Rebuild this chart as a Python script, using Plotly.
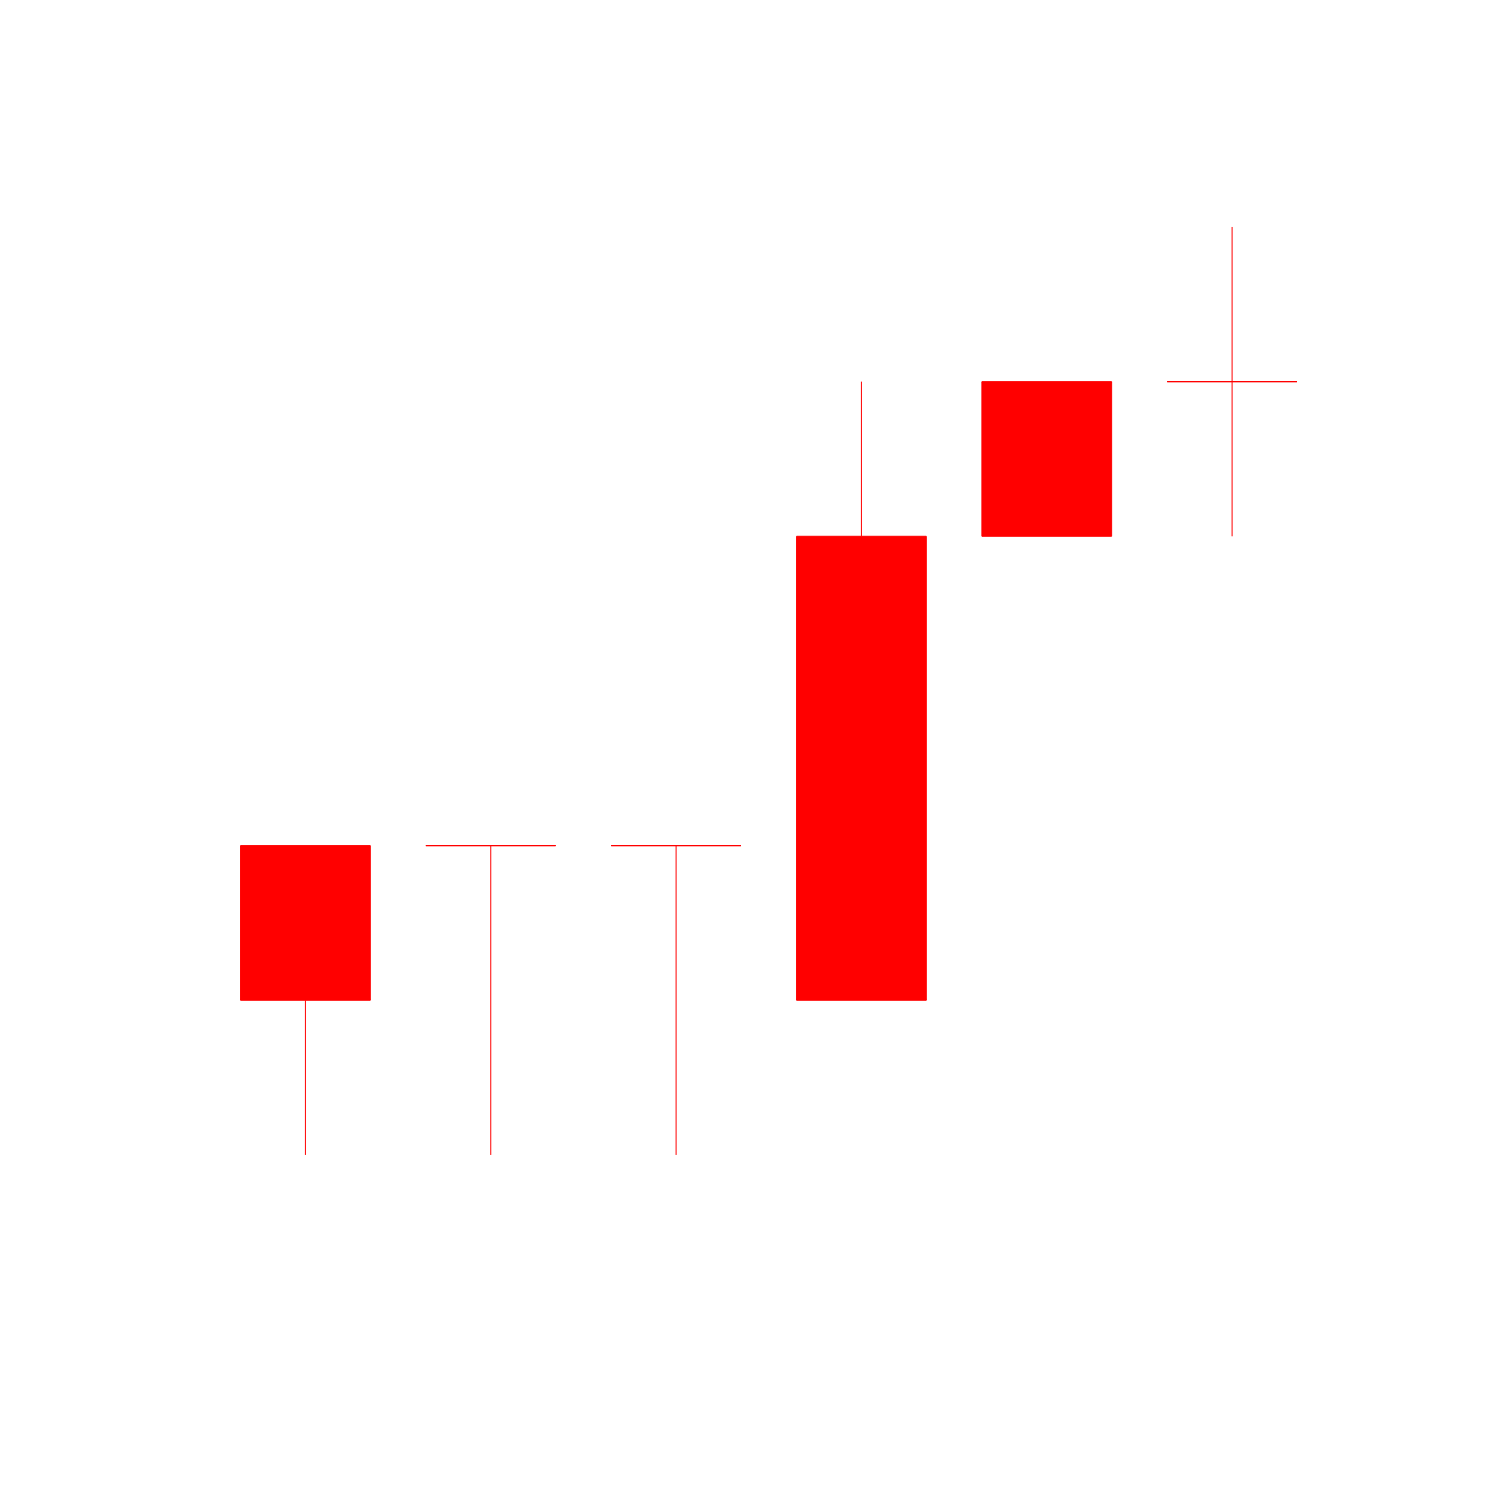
import plotly.graph_objects as go

x = [0, 1, 2, 3, 4, 5]
open_ = [3, 3, 3, 5, 5, 6]
close = [2, 3, 3, 2, 6, 6]
high = [3, 3, 3, 6, 6, 7]
low = [1, 1, 1, 2, 5, 5]

fig = go.Figure(go.Candlestick(
    x=x, open=open_, high=high, low=low, close=close,
    increasing=dict(line=dict(color="red", width=1), fillcolor="red"),
    decreasing=dict(line=dict(color="red", width=1), fillcolor="red"),
    whiskerwidth=0,
    showlegend=False,
))

fig.update_layout(
    width=1500, height=1500,
    margin=dict(l=0, r=0, t=0, b=0),
    paper_bgcolor="white", plot_bgcolor="white",
    boxgap=0.3, boxgroupgap=0,
    xaxis=dict(visible=False, range=[-1.648, 6.4455], rangeslider=dict(visible=False)),
    yaxis=dict(visible=False, range=[-1.231, 8.4675]),
)

fig.write_html("out.html")
